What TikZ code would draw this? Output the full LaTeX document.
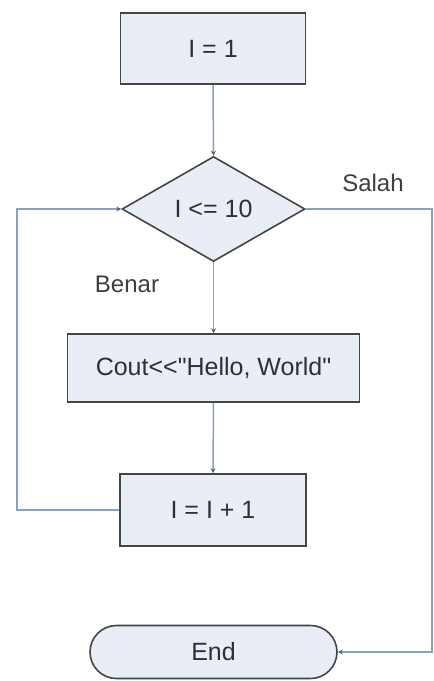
\documentclass[tikz,border=0pt]{standalone}
\usepackage{fontspec}
\newfontfamily\chartfont{Liberation Sans}
\usetikzlibrary{arrows.meta,shapes.geometric,shapes.misc}
\definecolor{boxfill}{HTML}{E9EDF5}
\definecolor{boxline}{HTML}{454545}
\definecolor{flowline}{HTML}{86A2C6}
\tikzset{
  shapebase/.style={draw=boxline,line width=1.6pt,fill=boxfill,inner sep=0pt,text=boxline!70!black,font=\chartfont\fontsize{25}{27}\selectfont},
  procbox/.style={shapebase,rectangle},
  decision/.style={shapebase,diamond},
  terminal/.style={shapebase,rounded rectangle},
  flow/.style={draw=flowline,line width=1.5pt,-{Stealth[length=5pt,width=5pt,color=boxline!70!flowline]}},
  tag/.style={font=\chartfont\fontsize{24}{26}\selectfont,text=boxline!90!black}
}
\begin{document}
\begin{tikzpicture}[x=1pt,y=-1pt]
\useasboundingbox[fill=white] (0,0) rectangle (434,681);
\node[procbox,minimum width=185pt,minimum height=71pt] (init) at (213,48.5) {I = 1};
\node[decision,minimum width=183pt,minimum height=105pt] (cond) at (213.5,209) {I <= 10};
\node[procbox,minimum width=292pt,minimum height=68pt] (out) at (213.5,368) {Cout<<"Hello, World"};
\node[procbox,minimum width=186pt,minimum height=72pt] (inc) at (213,510) {I = I + 1};
\node[terminal,minimum width=247pt,minimum height=53pt] (end) at (213.5,652) {End};
\coordinate (lft) at (17,0);
\coordinate (rgt) at (432,0);
\node[tag] (salah) at (373,183) {Salah};
\node[tag] (benar) at (127,284) {Benar};
\draw[flow] (init.south) -- (cond.north);
\draw[flow] (cond.south) -- (out.north);
\draw[flow] (out.south) -- (inc.north);
\draw[flow] (inc.west) -- (lft |- inc.west) -- (lft |- cond.west) -- (cond.west);
\draw[flow] (cond.east) -- (rgt |- cond.east) -- (rgt |- end.east) -- (end.east);
\end{tikzpicture}
\end{document}
